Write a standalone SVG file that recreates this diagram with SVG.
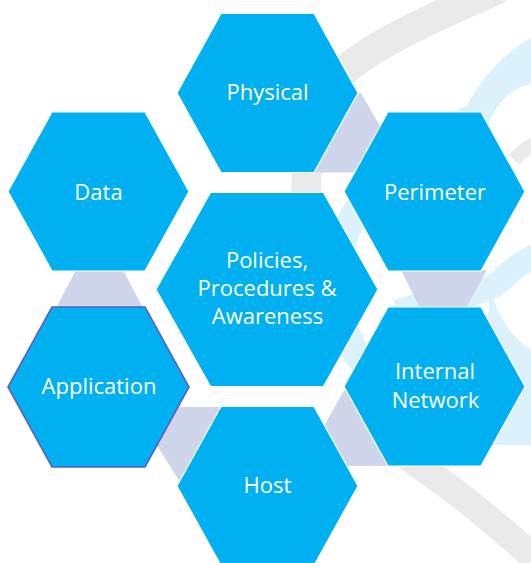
<svg xmlns="http://www.w3.org/2000/svg" width="531" height="563" viewBox="0 0 531 563">
<style>
.hex{fill:#00b0f0;stroke:#ffffff;stroke-width:1.2;stroke-linejoin:miter}
.hexsel{fill:#00b0f0;stroke:#5a5fc8;stroke-width:1.6}
.lbl{font-family:"Open Sans","Liberation Sans",sans-serif;font-size:22px;fill:#ffffff;text-anchor:middle}
.conn{fill:#cfd5ea}
.gray{fill:none;stroke:#eaeaea}
.lblue{fill:none;stroke:#dbf1fb}
</style>
<rect width="531" height="563" fill="#ffffff"/>
<g id="background">
  <path class="gray" stroke-width="30" d="M 500 -12 C 440 15 380 40 345 70 C 320 95 305 140 306 200 C 307 230 300 260 290 300"/>
  <path class="gray" stroke-width="27" d="M 380 420 C 395 445 405 457 421 467 C 440 480 480 508 545 568"/>
  <path class="gray" stroke-width="14" d="M 514 160 C 522 151 530 145 545 139"/>
  <path class="lblue" stroke-width="27" d="M 545 422 C 470 440 340 400 338 290 C 335 235 355 175 472 118"/>
  <path fill="#dbf1fb" d="M 458 125 C 470 95 495 55 540 33 L 540 84 C 520 82 500 95 488 125 Z"/>
  <path class="lblue" stroke-width="24" d="M 398 312 C 430 298 480 302 505 277 C 515 266 528 258 545 252"/>
  <path fill="#dbf1fb" d="M 490 290 C 500 320 512 340 540 355 L 540 445 L 480 445 Z"/>
</g>
<g id="connectors">
  <polygon class="conn" points="330,93 361,93 400,161 400,172.5 300,172.5"/>
  <polygon class="conn" points="401,270 487,270 466,308 420,308"/>
  <polygon class="conn" points="346,387 420,387 420,466 316,466 316,440"/>
  <polygon class="conn" points="170,407 240,407 240,490 185,490 158,447 150,447"/>
  <polygon class="conn" points="76,270 123,270 143,308 56,308"/>
</g>
<g id="node-physical">
  <polygon class="hex" points="177,93 221,13.5 314,13.5 358,93 314,172.5 221,172.5"/>
  <text class="lbl" x="267.5" y="100">Physical</text>
</g>
<g id="node-data">
  <polygon class="hex" points="8,191.5 52,112 145,112 189,191.5 145,271 52,271"/>
  <text class="lbl" x="98.5" y="200">Data</text>
</g>
<g id="node-perimeter">
  <polygon class="hex" points="344,191.5 388,112 481,112 525,191.5 481,271 388,271"/>
  <text class="lbl" x="435" y="200">Perimeter</text>
</g>
<g id="node-policies">
  <polygon class="hex" points="156,289.5 210.5,192.5 323.5,192.5 378,289.5 323.5,386.5 210.5,386.5"/>
  <text class="lbl" x="267" y="268">Policies,</text>
  <text class="lbl" x="267" y="296">Procedures &amp;</text>
  <text class="lbl" x="267.5" y="324">Awareness</text>
</g>
<g id="node-application">
  <polygon class="hexsel" points="8,387 52,307 145,307 189,387 145,467 52,467"/>
  <text class="lbl" x="99" y="394">Application</text>
</g>
<g id="node-internal-network">
  <polygon class="hex" points="344,386.5 388,307 481,307 525,386.5 481,466 388,466"/>
  <text class="lbl" x="435" y="379">Internal</text>
  <text class="lbl" x="435.5" y="408">Network</text>
</g>
<g id="node-host">
  <polygon class="hex" points="177,486 221,406.5 314,406.5 358,486 314,565.5 221,565.5"/>
  <text class="lbl" x="267.5" y="493">Host</text>
</g>
</svg>
